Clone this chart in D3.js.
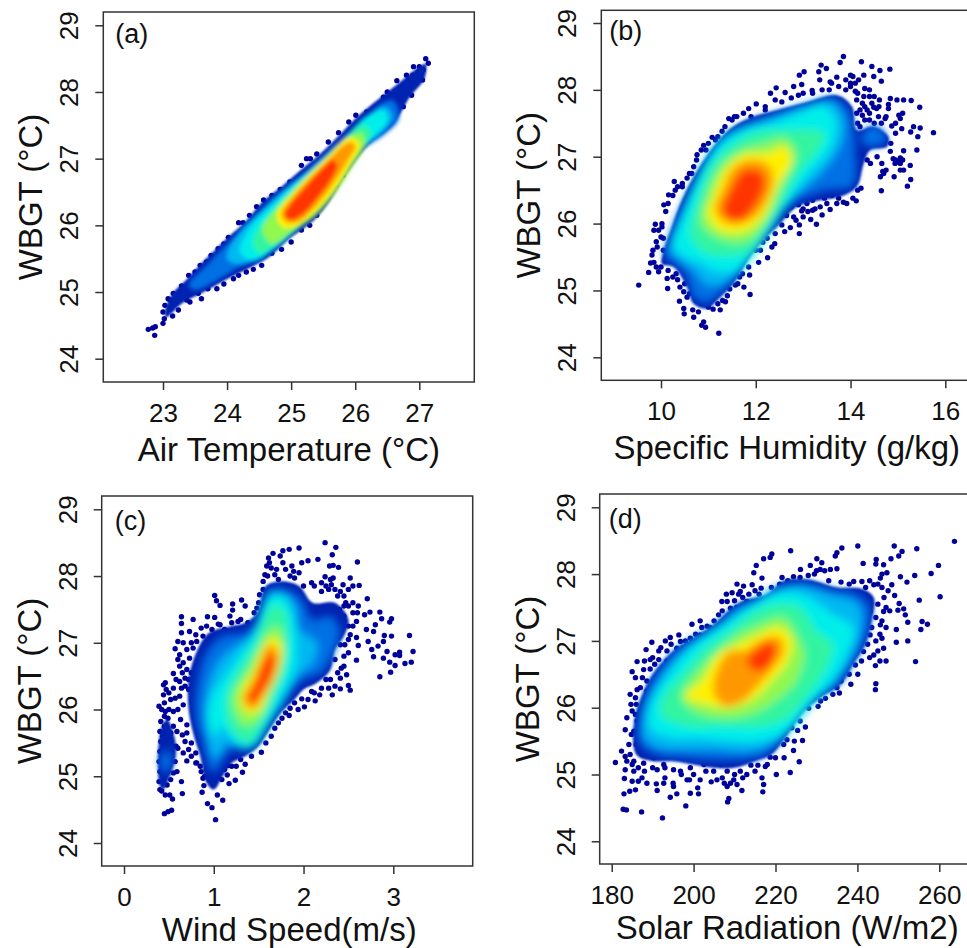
<!DOCTYPE html>
<html><head><meta charset="utf-8">
<script src="https://cdn.jsdelivr.net/npm/d3@7"></script>
<style>html,body{margin:0;padding:0;background:#fff;overflow:hidden}svg{display:block}
text{font-family:"Liberation Sans",Arial,sans-serif;fill:#111}</style></head><body>
<script>
const bandColors=["#0022b0","#0070e4","#00b8f2","#00eeea","#30f4a0","#90f850","#fff000","#ff9800","#ff3400"];
const dotColor="#00009a";
const yTicks=[24,25,26,27,28,29];
const yLabel="WBGT (°C)";

const dotsA=[[22.77,24.44],[22.84,24.46],[22.88,24.48],[22.87,24.35],[23.0,24.53],[23.02,24.6],[23.0,24.7],[23.03,24.8],[23.11,24.88],[23.16,24.98],[23.15,24.64],[23.24,24.73],[23.11,24.75],[23.29,25.09],[23.42,24.85],[23.6,24.9],[23.37,24.88],[23.84,25.05],[24.18,25.25],[24.41,25.34],[24.54,25.4],[24.85,25.64],[24.7,25.58],[25.29,26.0],[25.16,25.93],[25.58,26.43],[25.81,26.75],[24.18,26.04],[24.25,26.04],[24.02,25.82],[23.86,25.65],[23.68,25.45],[23.58,25.4],[24.46,26.28],[24.57,26.38],[24.83,26.54],[24.98,26.65],[25.16,26.9],[25.24,27.0],[25.4,27.07],[25.58,27.25],[25.74,27.39],[26.01,27.65],[26.18,27.7],[26.44,27.92],[26.65,28.17],[26.8,28.25],[26.91,28.38],[27.1,28.5],[27.14,28.43],[27.06,28.33],[27.05,28.18],[26.93,28.15],[26.88,27.95],[26.83,28.18],[26.75,27.78],[26.98,28.3],[23.08,24.9],[23.2,24.85],[23.3,24.95],[23.45,25.15],[23.55,24.98],[23.7,25.05],[23.95,25.12],[24.1,25.2],[24.3,25.3],[25.0,25.75],[25.4,26.15],[25.7,26.6],[25.95,27.0],[26.2,27.28],[26.45,27.5],[26.7,27.85],[26.8,28.0],[26.9,28.25],[27.0,28.38],[26.72,28.05],[26.5,28.0],[25.9,27.55],[25.3,27.0],[24.7,26.45],[24.35,26.15],[23.95,25.72],[23.75,25.55],[23.5,25.3],[23.4,25.25]];
const bandsA=[
[[23.03,24.7],[23.15,24.98],[23.35,25.17],[23.55,25.38],[23.8,25.62],[24.05,25.85],[24.3,26.07],[24.55,26.35],[24.85,26.58],[25.15,26.83],[25.45,27.07],[25.75,27.35],[26.0,27.6],[26.4,27.92],[26.7,28.15],[27.0,28.38],[27.1,28.42],[27.08,28.2],[26.85,27.92],[26.6,27.52],[26.2,27.2],[25.85,26.75],[25.6,26.36],[25.35,26.07],[25.0,25.82],[24.65,25.52],[24.35,25.36],[23.95,25.17],[23.6,24.98],[23.3,24.83],[23.05,24.62]],
[[23.4,25.1],[23.7,25.42],[24.0,25.72],[24.35,26.04],[24.65,26.32],[25.0,26.6],[25.4,26.95],[25.8,27.3],[26.1,27.55],[26.4,27.82],[26.6,27.87],[26.68,27.6],[26.45,27.36],[26.15,27.16],[25.85,26.8],[25.55,26.42],[25.25,26.06],[24.9,25.82],[24.55,25.5],[24.2,25.38],[23.85,25.18],[23.5,25.03]],
[[24.0,25.5],[24.15,25.85],[24.5,26.2],[24.9,26.55],[25.4,26.92],[25.8,27.28],[26.15,27.58],[26.45,27.78],[26.58,27.65],[26.4,27.4],[26.1,27.16],[25.8,26.78],[25.5,26.38],[25.2,26.06],[24.85,25.82],[24.5,25.52],[24.2,25.42]],
[[24.2,25.6],[24.35,25.95],[24.7,26.3],[25.1,26.65],[25.5,27.0],[25.85,27.33],[26.2,27.65],[26.45,27.72],[26.5,27.55],[26.2,27.25],[25.95,26.95],[25.7,26.55],[25.4,26.2],[25.05,25.9],[24.7,25.62],[24.4,25.48]],
[[24.4,25.75],[24.65,26.15],[25.0,26.5],[25.4,26.88],[25.8,27.25],[26.1,27.5],[26.25,27.4],[26.1,27.1],[25.85,26.75],[25.5,26.3],[25.1,25.95],[24.75,25.7],[24.5,25.58]],
[[24.55,25.95],[24.8,26.28],[25.15,26.65],[25.5,26.98],[25.85,27.3],[26.1,27.38],[26.15,27.2],[25.95,26.88],[25.7,26.5],[25.35,26.12],[25.0,25.9],[24.7,25.72]],
[[24.78,26.18],[25.0,26.45],[25.3,26.77],[25.6,27.05],[25.9,27.32],[26.07,27.22],[25.92,26.92],[25.65,26.5],[25.35,26.18],[25.05,25.98],[24.85,25.98]],
[[24.85,26.18],[25.0,26.4],[25.3,26.72],[25.6,27.0],[25.9,27.25],[26.0,27.2],[25.85,26.92],[25.6,26.55],[25.35,26.25],[25.1,26.05],[24.92,26.05]],
[[24.9,26.15],[25.0,26.33],[25.2,26.55],[25.45,26.82],[25.65,26.98],[25.72,26.9],[25.6,26.65],[25.4,26.4],[25.2,26.18],[25.0,26.08]]
];
const extrasA=[];

const dotsB=[[9.53,25.08],[9.74,25.27],[9.78,25.41],[9.81,25.53],[9.83,25.6],[9.9,25.73],[9.88,25.99],[9.85,25.9],[10.02,25.95],[9.95,25.28],[10.13,25.18],[10.14,25.03],[10.35,25.16],[10.48,24.98],[10.39,24.84],[10.48,24.73],[10.49,24.65],[10.69,24.6],[10.67,24.71],[10.79,24.68],[10.9,24.53],[10.94,24.45],[10.86,24.48],[11.22,24.36],[11.25,24.71],[11.36,24.83],[11.18,24.96],[11.57,25.08],[11.66,25.2],[11.87,25.23],[11.88,24.94],[12.06,25.42],[12.25,25.49],[12.34,25.65],[12.24,25.78],[12.41,25.85],[12.61,25.88],[12.73,25.94],[12.92,25.85],[12.92,25.98],[13.28,25.99],[13.16,26.06],[13.4,26.13],[12.97,26.19],[13.57,26.21],[13.92,26.3],[14.12,26.34],[14.22,26.53],[14.65,26.49],[14.63,26.7],[14.92,26.7],[15.2,26.56],[15.27,26.66],[15.26,26.87],[15.12,26.8],[15.05,26.98],[15.12,27.09],[15.4,27.1],[14.84,27.08],[14.66,26.9],[14.56,27.0],[15.75,27.36],[15.47,27.43],[15.33,27.45],[15.42,27.3],[15.27,27.37],[15.08,27.42],[15.1,27.65],[15.46,27.74],[15.28,27.84],[15.12,27.85],[14.98,27.85],[14.84,27.87],[14.8,27.72],[14.61,27.85],[14.49,27.74],[14.83,28.31],[14.62,28.29],[14.45,28.35],[14.65,28.13],[14.49,28.2],[14.23,28.42],[14.28,28.22],[13.85,28.5],[13.78,28.41],[14.0,28.22],[14.17,28.15],[13.71,28.19],[13.57,28.12],[13.38,28.37],[13.49,28.32],[13.33,28.27],[13.35,28.15],[13.02,28.27],[12.92,28.22],[12.97,28.08],[12.8,28.05],[12.43,28.03],[12.31,27.95],[12.62,27.96],[12.41,27.85],[12.9,27.92],[13.19,27.99],[13.4,28.0],[12.01,27.79],[11.74,27.65],[11.43,27.57],[11.29,27.38],[11.08,27.29],[10.9,27.17],[10.76,27.03],[10.69,26.85],[10.28,26.63],[10.55,26.68],[10.16,26.43],[10.06,26.28],[14.28,27.9],[14.35,27.7],[14.59,27.6],[14.73,27.57],[15.05,27.57],[14.87,27.46],[14.13,27.85],[14.13,27.65],[14.2,27.45],[14.94,26.9],[15.05,26.8],[14.7,26.75],[14.42,26.9],[13.08,26.3],[12.8,26.1],[12.55,25.98],[13.36,26.25],[13.71,26.3],[14.35,26.95],[14.0,28.05],[14.1,27.98],[13.9,28.0],[14.4,28.0],[14.25,27.8],[14.5,27.9],[14.4,27.55],[10.3,26.5],[10.45,26.55],[10.0,25.8],[10.05,25.6],[10.6,26.75],[10.95,27.1],[11.2,27.3],[11.55,27.6],[11.9,27.6],[12.2,27.7],[13.0,26.1],[13.2,26.2],[13.5,26.3],[12.4,25.7],[12.1,25.6],[11.75,25.05],[10.25,25.2],[10.6,24.95],[11.1,24.72],[11.3,24.85],[12.9,26.28],[12.75,26.25],[13.0,26.4],[13.2,26.35],[13.3,26.45],[13.45,26.38],[13.6,26.42],[13.75,26.38],[13.85,26.32],[14.05,26.38],[14.15,26.5],[12.65,26.12],[12.5,26.1],[12.3,25.95],[12.15,25.72],[12.0,25.6],[12.25,25.9],[13.25,26.22],[13.1,26.18],[12.85,26.05],[13.0,26.22],[14.0,28.1],[14.1,28.1],[14.15,27.95],[14.2,27.7],[14.25,27.62],[14.3,27.75],[14.45,27.8],[14.4,27.65],[14.5,27.5],[14.6,27.75],[14.3,27.55],[14.15,27.5],[14.05,28.2],[13.9,28.15],[13.6,28.1],[13.75,28.05],[13.55,28.0],[13.2,27.95],[13.0,27.95],[12.75,27.88],[12.55,27.82],[12.2,27.75],[11.85,27.72],[11.6,27.6],[11.5,27.55],[11.35,27.45],[11.15,27.25],[11.0,27.2],[10.85,27.1],[10.75,26.95],[10.65,26.75],[10.45,26.6],[10.35,26.55],[10.25,26.42],[10.15,26.3],[10.1,26.18],[10.02,26.0],[9.95,25.9],[10.05,25.78],[9.92,25.65],[9.85,25.42],[9.9,25.35],[10.0,25.35],[10.15,25.3],[10.32,25.25],[10.4,25.05],[10.5,25.1],[10.55,24.9],[10.75,24.85],[11.0,24.75],[11.2,24.8],[11.4,24.92],[11.45,25.02],[11.62,25.1],[11.72,25.25],[11.85,25.35],[15.0,26.92],[14.95,26.95],[15.05,26.9],[15.1,26.95],[14.9,26.97],[14.85,27.2],[14.75,26.8],[14.68,26.78],[14.95,27.35],[14.95,27.5],[15.02,27.62],[14.8,27.78],[14.75,27.6],[14.65,27.5],[14.55,27.72],[14.4,27.9],[14.3,28.02]];
const bandsB=[
[[10.02,25.4],[10.06,25.6],[10.23,25.95],[10.41,26.3],[10.69,26.7],[11.11,27.15],[11.46,27.42],[11.95,27.6],[12.45,27.7],[13.08,27.82],[13.71,27.92],[14.03,27.75],[14.13,27.4],[14.49,27.45],[14.8,27.3],[14.77,27.15],[14.42,27.1],[14.28,26.9],[14.13,26.55],[13.78,26.4],[13.36,26.35],[12.87,26.25],[12.52,26.0],[12.17,25.75],[11.88,25.5],[11.53,25.1],[11.25,24.9],[10.97,24.73],[10.69,24.8],[10.55,25.05],[10.27,25.35]],
[[10.08,25.5],[10.25,25.95],[10.52,26.38],[10.87,26.88],[11.22,27.25],[11.72,27.48],[12.3,27.62],[13.0,27.78],[13.66,27.88],[13.98,27.68],[14.08,27.35],[14.1,27.0],[14.12,26.75],[14.02,26.55],[13.5,26.5],[13.08,26.4],[12.66,26.25],[12.38,25.95],[12.03,25.65],[11.74,25.35],[11.39,25.05],[10.97,24.82],[10.69,24.9],[10.55,25.2],[10.3,25.4]],
[[10.2,25.6],[10.45,26.1],[10.7,26.55],[11.0,27.0],[11.4,27.35],[11.9,27.48],[12.4,27.6],[13.0,27.75],[13.6,27.82],[13.85,27.55],[13.8,27.2],[13.5,26.85],[13.05,26.55],[12.65,26.35],[12.35,26.0],[12.0,25.65],[11.7,25.3],[11.3,25.1],[10.95,25.1],[10.7,25.3],[10.4,25.45]],
[[10.27,25.65],[10.5,26.2],[10.8,26.7],[11.2,27.15],[11.75,27.4],[12.35,27.5],[12.9,27.65],[13.4,27.76],[13.68,27.55],[13.6,27.15],[13.1,26.72],[12.8,26.42],[12.4,26.0],[12.05,25.62],[11.65,25.32],[11.2,25.28],[10.8,25.42],[10.5,25.5]],
[[10.62,25.82],[10.78,26.35],[11.08,26.87],[11.6,27.22],[12.1,27.38],[12.6,27.4],[13.1,27.4],[13.45,27.35],[13.3,27.08],[12.95,26.8],[12.6,26.38],[12.2,25.92],[11.85,25.58],[11.35,25.52],[10.9,25.58]],
[[10.85,26.0],[10.95,26.4],[11.25,26.85],[11.7,27.1],[12.2,27.2],[12.6,27.28],[12.85,27.05],[12.55,26.55],[12.25,26.05],[11.85,25.75],[11.3,25.75]],
[[10.98,26.15],[11.1,26.4],[11.35,26.8],[11.75,27.03],[12.25,27.05],[12.6,27.15],[12.75,26.95],[12.45,26.55],[12.15,26.1],[11.75,25.88],[11.25,25.9]],
[[11.15,26.2],[11.3,26.5],[11.55,26.85],[11.95,26.95],[12.3,26.85],[12.35,26.55],[12.05,26.15],[11.7,26.0],[11.35,26.02]],
[[11.3,26.2],[11.5,26.55],[11.75,26.8],[12.1,26.78],[12.2,26.6],[11.98,26.25],[11.7,26.05],[11.4,26.08]]
];
const extrasB=[[1,[[14.3,27.4],[14.6,27.45],[14.75,27.25],[14.5,27.15],[14.25,27.2]]]];

const dotsC=[[0.4,24.8],[0.39,24.92],[0.4,25.07],[0.39,25.22],[0.4,25.37],[0.41,25.52],[0.4,25.67],[0.41,25.82],[0.39,26.05],[0.44,26.22],[0.44,26.37],[0.46,26.4],[0.46,25.97],[0.49,25.87],[0.48,25.57],[0.49,25.07],[0.48,24.87],[0.51,24.72],[0.54,24.66],[0.45,24.44],[0.49,24.47],[0.53,24.49],[0.65,24.74],[0.64,24.92],[0.59,25.07],[0.57,25.22],[0.6,25.42],[0.59,25.67],[0.55,25.97],[0.57,26.17],[0.55,26.32],[0.55,26.54],[0.64,26.32],[0.66,26.07],[0.7,25.77],[0.68,25.52],[0.7,25.23],[0.81,25.2],[0.86,25.07],[0.87,24.76],[0.89,24.86],[0.93,24.59],[0.98,24.53],[1.02,24.35],[1.04,24.72],[1.1,24.64],[1.09,24.95],[1.17,24.89],[1.24,24.94],[1.16,25.16],[1.32,25.06],[1.35,25.18],[1.53,25.36],[1.64,25.6],[1.76,25.87],[1.84,25.91],[1.94,26.0],[2.01,26.04],[2.13,26.13],[1.98,26.16],[2.09,26.27],[2.18,26.22],[2.32,26.22],[2.41,26.31],[2.52,26.29],[2.5,26.36],[2.48,26.52],[2.41,26.47],[2.28,26.32],[2.59,26.74],[2.42,26.62],[2.5,26.85],[2.61,26.96],[2.59,27.08],[2.46,26.97],[2.52,27.12],[2.7,27.2],[2.78,27.17],[2.72,27.02],[2.76,26.9],[2.83,26.95],[2.78,26.79],[2.85,26.49],[2.89,26.77],[2.97,26.56],[2.96,26.71],[3.02,26.66],[3.02,26.82],[3.07,26.86],[2.93,26.87],[2.89,27.02],[2.98,27.1],[2.9,27.11],[3.18,27.11],[3.22,26.87],[3.2,26.71],[3.13,26.69],[3.07,26.81],[2.98,27.36],[2.96,27.31],[2.85,27.46],[2.87,27.36],[2.74,27.46],[2.68,27.42],[2.8,27.27],[2.71,27.66],[2.62,27.86],[2.52,27.97],[2.5,27.8],[2.6,28.21],[2.39,28.13],[2.33,28.16],[2.29,28.15],[2.32,28.32],[2.36,28.43],[2.24,28.5],[2.16,28.25],[2.05,28.23],[1.95,28.42],[1.98,28.2],[1.84,28.4],[1.77,28.38],[1.66,28.34],[1.74,28.3],[1.61,28.27],[1.59,28.15],[1.57,28.02],[1.55,27.92],[1.87,28.15],[1.9,27.97],[2.24,27.99],[2.09,27.9],[2.31,27.87],[2.2,27.77],[2.41,27.77],[2.55,27.6],[1.51,27.72],[1.48,27.52],[1.31,27.64],[1.35,27.55],[1.21,27.58],[1.21,27.49],[1.01,27.71],[1.03,27.63],[1.07,27.56],[1.18,27.4],[1.01,27.38],[0.93,27.39],[0.64,27.39],[0.64,27.29],[0.77,27.35],[0.86,27.22],[0.73,27.17],[0.64,27.15],[0.6,27.02],[0.66,27.0],[0.57,26.91],[0.77,26.92],[0.62,26.82],[0.73,26.77],[0.62,26.65],[0.68,26.47],[1.27,27.32],[1.07,27.27],[0.81,27.02],[2.33,27.97],[2.44,27.87],[2.55,27.85],[2.61,27.55],[2.59,27.32],[2.41,26.97],[1.64,28.12],[1.77,28.2],[1.89,28.07],[1.68,28.02],[2.28,27.8],[2.45,27.55],[2.6,27.45],[2.5,27.25],[2.45,27.4],[2.35,26.75],[2.25,26.45],[0.5,25.3],[0.45,25.75],[0.52,25.65],[0.45,26.1],[0.5,26.25],[0.62,26.2],[0.72,26.3],[0.75,25.5],[0.8,25.35],[0.9,25.0],[1.12,25.1],[1.2,25.15],[0.82,26.7],[0.75,26.55],[0.43,25.6],[0.45,25.9],[0.5,26.0],[0.42,26.0],[0.47,26.3],[0.52,26.15],[0.6,26.0],[0.63,25.85],[0.55,25.75],[0.65,25.62],[0.7,25.65],[0.58,25.45],[0.72,25.4],[0.66,25.35],[0.75,25.3],[0.8,25.2],[0.85,25.15],[0.92,25.1],[0.95,24.95],[0.88,24.97],[0.55,25.05],[0.52,24.95],[0.46,24.72],[0.42,24.78],[0.58,26.45],[0.62,26.42],[0.68,26.35],[0.7,26.6],[0.65,26.55],[0.72,26.45],[0.78,26.4],[0.6,26.75],[0.66,26.7],[0.7,26.9],[0.75,27.0],[0.8,27.12],[0.88,27.1],[0.92,27.25],[0.98,27.2],[1.05,27.28],[1.12,27.2],[1.2,27.3],[1.3,27.35],[1.38,27.3],[1.45,27.45],[1.5,27.6],[1.55,27.8],[1.6,28.0],[1.62,28.2],[1.7,28.1],[1.72,27.95],[1.8,28.1],[1.85,28.0],[1.95,28.05],[2.0,27.85],[2.12,27.85],[2.2,27.9],[2.25,27.85],[2.3,27.95],[2.35,27.8],[2.38,27.7],[2.45,27.7],[2.47,27.6],[2.5,27.55],[2.4,27.5],[2.55,27.45],[2.55,27.25],[2.5,27.05],[2.45,26.8],[2.45,26.65],[2.38,26.55],[2.3,26.45],[2.35,26.35],[2.2,26.32],[2.12,26.25],[2.05,26.15],[1.9,26.1],[1.85,26.02],[1.8,25.95],[1.72,25.8],[1.68,25.72],[1.58,25.5],[1.42,25.3],[1.3,25.25],[1.25,25.15],[1.15,25.02],[1.05,25.0]];
const bandsC=[
[[0.85,25.3],[0.78,25.6],[0.72,26.0],[0.72,26.45],[0.82,26.9],[0.95,27.15],[1.2,27.25],[1.35,27.3],[1.48,27.45],[1.58,27.85],[1.75,27.92],[1.95,27.85],[2.1,27.6],[2.35,27.6],[2.5,27.35],[2.45,27.1],[2.35,26.9],[2.3,26.6],[2.15,26.4],[2.0,26.3],[1.9,26.15],[1.75,25.95],[1.6,25.65],[1.5,25.45],[1.35,25.3],[1.2,25.2],[1.1,25.0],[1.0,24.8],[0.92,24.9]],
[[0.88,25.5],[0.8,25.9],[0.82,26.4],[0.92,26.85],[1.1,27.1],[1.35,27.15],[1.5,27.35],[1.6,27.78],[1.8,27.8],[1.98,27.65],[2.1,27.35],[2.3,27.4],[2.4,27.2],[2.35,26.9],[2.2,26.55],[2.0,26.45],[1.85,26.25],[1.72,26.0],[1.55,25.7],[1.4,25.4],[1.2,25.4],[1.08,25.2],[1.0,25.05],[0.93,25.2]],
[[1.0,25.3],[0.92,25.7],[0.92,26.2],[1.05,26.7],[1.25,26.95],[1.42,27.1],[1.55,27.55],[1.65,27.75],[1.82,27.72],[1.92,27.5],[1.95,27.2],[2.15,27.0],[2.1,26.7],[1.93,26.5],[1.8,26.15],[1.65,25.85],[1.5,25.55],[1.35,25.42],[1.15,25.5],[1.05,25.3]],
[[1.0,25.6],[0.93,25.9],[0.98,26.2],[1.15,26.55],[1.3,26.85],[1.45,27.15],[1.55,27.55],[1.68,27.72],[1.8,27.65],[1.88,27.4],[1.92,27.0],[1.9,26.6],[1.75,26.15],[1.6,25.75],[1.45,25.45],[1.3,25.45],[1.15,25.65],[1.08,25.75]],
[[1.14,25.9],[1.15,26.25],[1.3,26.65],[1.45,26.95],[1.55,27.3],[1.65,27.55],[1.78,27.5],[1.82,27.1],[1.8,26.65],[1.65,26.15],[1.52,25.75],[1.38,25.5],[1.22,25.65]],
[[1.22,26.0],[1.22,26.25],[1.38,26.6],[1.5,26.9],[1.6,27.15],[1.7,27.25],[1.78,27.05],[1.76,26.65],[1.62,26.2],[1.5,25.85],[1.35,25.75]],
[[1.3,26.1],[1.32,26.3],[1.45,26.6],[1.53,26.88],[1.65,27.08],[1.75,26.95],[1.72,26.6],[1.6,26.25],[1.5,25.98],[1.38,25.95]],
[[1.33,26.18],[1.42,26.4],[1.53,26.75],[1.62,26.98],[1.72,26.85],[1.68,26.5],[1.55,26.2],[1.45,26.02],[1.36,26.05]],
[[1.38,26.18],[1.47,26.4],[1.55,26.7],[1.63,26.85],[1.68,26.7],[1.62,26.45],[1.52,26.2],[1.44,26.08]]
];
const extrasC=[[0,[[0.4,24.85],[0.41,25.7],[0.48,25.85],[0.56,25.6],[0.58,25.35],[0.54,25.1],[0.48,24.9],[0.44,24.8]]],[1,[[0.42,25.1],[0.42,25.35],[0.5,25.38],[0.53,25.2],[0.48,25.05]]]];

const dotsD=[[180.9,25.18],[182.4,25.35],[183.3,25.27],[183.1,24.94],[183.0,24.71],[182.8,24.48],[183.6,24.47],[187.3,24.44],[192.4,24.35],[184.4,24.75],[185.8,24.77],[187.4,24.95],[188.6,24.87],[190.9,24.86],[191.1,24.76],[192.7,24.87],[194.3,24.66],[195.9,24.71],[195.1,24.82],[198.1,24.53],[199.2,24.72],[201.2,24.71],[201,24.8],[198.4,24.92],[201.6,24.92],[204.3,24.89],[205.7,24.92],[208.6,24.64],[208.3,24.59],[208.2,24.82],[209.8,24.92],[211.8,24.76],[210.6,24.85],[213,25.0],[216.7,24.95],[217.1,24.85],[216.9,24.74],[220.2,25.0],[223.6,25.03],[225.8,25.19],[222.1,25.25],[224.4,25.36],[226.6,25.51],[227.3,25.71],[224.6,25.5],[222.8,25.52],[225.4,25.66],[222,25.67],[218.7,25.26],[217.5,25.12],[215.7,25.14],[214,25.14],[204.9,25.05],[196.8,25.05],[191.1,25.07],[185.4,25.05],[183.3,25.07],[183.7,25.2],[187.8,25.17],[184.2,25.45],[183.3,25.67],[183.7,25.85],[184.7,26.05],[185.8,26.15],[186.2,26.27],[187,25.95],[185,26.54],[186.2,26.69],[187.8,26.57],[189.4,26.58],[189.4,26.72],[188.4,26.87],[189.8,26.98],[191.5,26.85],[193.1,27.0],[194.3,27.05],[196.4,27.09],[195.1,26.74],[191.5,26.72],[188.6,26.4],[199.6,27.25],[201.6,27.3],[199.2,27.04],[203.3,27.22],[206.1,27.39],[206.9,27.59],[210.6,27.85],[209.4,27.72],[212.2,27.82],[214.3,27.84],[214.7,28.02],[215.3,28.13],[216.7,27.94],[216.5,27.79],[217.1,28.23],[218.7,28.25],[219.1,28.3],[223.7,28.35],[221.6,27.95],[224.4,27.96],[226.1,28.07],[228.5,28.13],[230.1,28.23],[231.3,28.17],[233.4,28.07],[235,28.08],[234.6,28.27],[235,28.32],[236.2,28.39],[240.1,28.42],[241.4,28.16],[244.6,28.22],[246.4,28.14],[248.2,28.23],[249,28.42],[250.9,28.34],[250.1,28.27],[254.5,28.38],[263.7,28.49],[259.8,28.13],[258,28.01],[254,27.98],[260.2,27.66],[255.1,27.61],[252.1,27.88],[250.5,27.96],[248.4,27.84],[249.1,27.68],[250.2,27.56],[251.3,27.48],[249.9,27.46],[247.9,27.45],[251.7,27.39],[252.3,27.28],[255.8,27.29],[257.1,27.25],[255.5,27.17],[249.5,27.17],[249.5,26.98],[252.3,27.0],[254.2,26.69],[247,26.7],[246.4,26.89],[244.4,26.63],[244.5,26.36],[244.4,26.27],[240.1,26.5],[238.4,26.35],[235.6,26.22],[235,26.3],[232.2,26.14],[230.4,26.02],[228.1,25.99],[246.4,27.44],[245.6,27.94],[247.2,28.02],[244,27.84],[243.1,27.44],[245.6,27.24],[243.1,27.09],[246,27.04],[244,26.79],[241.5,26.84],[239.5,26.64],[241.1,27.89],[239.1,27.89],[185.4,25.2],[190.3,25.25],[192.7,25.15],[195.1,25.07],[199.2,25.1],[202.5,25.15],[206.5,25.15],[208.2,25.05],[211.4,25.05],[185.4,25.65],[186.2,25.8],[211.4,27.74],[213,27.59],[209,27.49],[208.2,27.59],[188.6,26.25],[193.5,26.7],[191.9,26.5],[195.9,26.89],[196.8,26.99],[201.6,27.09],[230.9,28.07],[184.5,25.3],[185,25.15],[186.5,25.1],[187.5,25.3],[186,25.45],[184.8,25.6],[186.2,25.6],[185,25.95],[185.8,25.9],[184.5,26.2],[186,26.05],[187,26.3],[185.8,26.45],[187.5,26.45],[188,26.7],[190,26.75],[190.5,26.65],[192,26.9],[193.5,26.85],[194.5,26.95],[197.5,26.9],[198,27.0],[200.5,27.1],[202,27.2],[204,27.2],[205,27.3],[207,27.45],[208,27.7],[210,27.6],[210.5,27.5],[211,27.7],[212,27.65],[213.5,27.7],[215,27.75],[216,27.7],[219,27.8],[221,27.85],[223,27.9],[226,27.95],[228,27.98],[230,28.05],[232,28.05],[229.5,28.0],[233,27.9],[236,27.88],[238,27.85],[242,27.8],[243,27.9],[245,27.85],[246,27.8],[247.5,27.75],[246,28.0],[244.5,28.15],[246.5,27.65],[245,27.55],[247,27.5],[244.5,27.35],[246,27.3],[243.5,27.2],[247,27.2],[244.5,27.0],[245.5,27.1],[242.5,26.95],[245,26.85],[243,26.75],[241,26.7],[245.5,26.7],[238,26.5],[236,26.4],[234,26.2],[231,26.1],[193,25.1],[197,25.0],[200,25.0],[203,25.05],[207,24.95],[210,25.0],[212,24.95],[215,25.05],[218,25.15],[220,25.25],[222,25.45],[224,25.7],[226,25.8],[190,25.1],[188,25.05],[186.5,24.9],[185,24.9],[199,24.92],[195,24.87],[193,24.95],[209,24.87],[207.5,24.87]];
const bandsD=[
[[186,25.3],[185.5,25.8],[187.5,26.2],[190,26.5],[195,26.85],[200,27.05],[205,27.25],[208.5,27.45],[212,27.6],[218,27.7],[222,27.9],[228,27.92],[235,27.8],[241,27.78],[244,27.65],[243.5,27.3],[242,26.95],[239,26.65],[236,26.35],[231,26.15],[227,25.95],[223,25.6],[219,25.3],[215,25.2],[210,25.1],[205,25.1],[200,25.15],[195,25.2],[190,25.2]],
[[187,25.45],[186.8,25.9],[189,26.3],[192,26.6],[196,26.88],[201,27.08],[206,27.28],[210,27.5],[215,27.62],[220,27.8],[227,27.87],[234,27.77],[240,27.7],[243,27.5],[242,27.05],[239,26.68],[235,26.33],[230,26.13],[226,25.85],[222,25.55],[217,25.28],[210,25.22],[204,25.22],[198,25.25],[192,25.28]],
[[188,25.55],[188,25.95],[191,26.35],[196,26.75],[202,27.05],[207,27.25],[212,27.5],[218,27.7],[225,27.83],[233,27.7],[240,27.55],[241,27.2],[238.5,26.75],[234,26.35],[229,26.05],[225,25.75],[220,25.48],[213,25.35],[205,25.38],[197,25.38],[192,25.4]],
[[189.5,25.7],[190,26.1],[194,26.5],[199,26.88],[205,27.15],[210,27.35],[215,27.55],[221,27.72],[227,27.68],[234,27.4],[239,27.2],[237,26.75],[233,26.35],[228,26.02],[223,25.65],[216,25.5],[209,25.5],[201,25.55],[195,25.55]],
[[192,25.9],[193,26.2],[198,26.55],[203,26.9],[209,27.15],[214,27.4],[220,27.55],[226,27.5],[230,27.15],[234,26.95],[232,26.55],[228,26.2],[223,25.85],[217,25.72],[208,25.72],[199,25.72]],
[[197,26.15],[201,26.55],[206,26.85],[211,27.1],[216,27.25],[222,27.35],[225.5,27.05],[227,26.8],[225,26.4],[220,26.1],[214,25.9],[206,25.85],[200,25.95]],
[[198,26.18],[202,26.4],[206,26.8],[211,26.95],[216,27.1],[221,27.2],[224,27.0],[222.5,26.65],[219,26.4],[215,26.15],[209,26.0],[203,26.05]],
[[205,26.2],[206,26.6],[209,26.85],[212.5,26.85],[216,27.0],[221,27.05],[222,26.85],[219.5,26.6],[216,26.35],[212,26.1],[208,26.02]],
[[213,26.72],[216,26.9],[219,27.0],[220,26.85],[218,26.6],[215,26.55]]
];
const extrasD=[];

const panelA={tag:"(a)",xLabel:"Air Temperature (°C)",xTicks:[23,24,25,26,27],dots:dotsA,bands:bandsA,extras:extrasA};
const panelB={tag:"(b)",xLabel:"Specific Humidity (g/kg)",xTicks:[10,12,14,16],dots:dotsB,bands:bandsB,extras:extrasB};
const panelC={tag:"(c)",xLabel:"Wind Speed(m/s)",xTicks:[0,1,2,3],dots:dotsC,bands:bandsC,extras:extrasC};
const panelD={tag:"(d)",xLabel:"Solar Radiation (W/m2)",xTicks:[180,200,220,240,260],dots:dotsD,bands:bandsD,extras:extrasD};

const frames=[
 {p:panelA,l:103.3,t:12,  w:371,h:370,xd:[23,27],  xr:[163,419.3],  yr:[358.7,25.3], rim:0.8,blur:2,  tx:12,ty:31,cx:0,ly:79},
 {p:panelB,l:601.3,t:10.3,w:371,h:370,xd:[10,16],  xr:[661,945.3],  yr:[357.3,23],   rim:1.3,blur:4.5,tx:8, ty:30,cx:0,ly:79},
 {p:panelC,l:101.7,t:496, w:371,h:370,xd:[0,3],    xr:[124,393.3],  yr:[843,509.3],  rim:1.3,blur:4.5,tx:13,ty:34,cx:2,ly:75},
 {p:panelD,l:599.7,t:494, w:371,h:370,xd:[180,260],xr:[611.7,939.3],yr:[841.3,507.3],rim:1.3,blur:4.5,tx:9, ty:34,cx:2,ly:75}
];

const svg=d3.select("body").append("svg").attr("width",967).attr("height",948);
const defs=svg.append("defs");
const ink="#333";
frames.forEach((f,i)=>{
  const x=d3.scaleLinear().domain(f.xd).range(f.xr);
  const y=d3.scaleLinear().domain([24,29]).range(f.yr);
  [["r",f.rim],["b",f.blur]].forEach(([n,s])=>defs.append("filter").attr("id",n+i)
    .attr("x",f.l-20).attr("y",f.t-20).attr("width",f.w+40).attr("height",f.h+40)
    .attr("filterUnits","userSpaceOnUse").append("feGaussianBlur").attr("stdDeviation",s));
  const g=svg.append("g");
  g.append("g").selectAll("circle").data(f.p.dots).join("circle")
    .attr("cx",d=>x(d[0])).attr("cy",d=>y(d[1])).attr("r",2.7).attr("fill",dotColor);
  const line=d3.line().x(d=>x(d[0])).y(d=>y(d[1])).curve(d3.curveCatmullRomClosed.alpha(0.5));
  const rim=g.append("g").attr("filter",`url(#r${i})`);
  rim.append("path").attr("d",line(f.p.bands[0])).attr("fill",bandColors[0]);
  f.p.extras.filter(e=>e[0]===0).forEach(e=>rim.append("path").attr("d",line(e[1])).attr("fill",bandColors[0]));
  const field=g.append("g").attr("filter",`url(#b${i})`);
  f.p.bands.slice(1).forEach((b,k)=>field.append("path").attr("d",line(b)).attr("fill",bandColors[k+1]));
  f.p.extras.filter(e=>e[0]>0).forEach(e=>field.append("path").attr("d",line(e[1])).attr("fill",bandColors[e[0]]));
  g.append("rect").attr("x",f.l).attr("y",f.t).attr("width",f.w).attr("height",f.h)
    .attr("fill","none").attr("stroke",ink).attr("stroke-width",1.5);
  const ax=g.append("g").attr("transform",`translate(0,${f.t+f.h})`)
    .call(d3.axisBottom(x).tickValues(f.p.xTicks).tickSize(8).tickFormat(d3.format("d")));
  ax.select(".domain").remove();
  ax.selectAll("line").attr("stroke",ink).attr("stroke-width",1.5);
  ax.selectAll("text").attr("font-size",26).attr("font-family","Liberation Sans").attr("fill","#111").attr("y",40).attr("dy",0);
  const ay=g.append("g").attr("transform",`translate(${f.l},0)`)
    .call(d3.axisLeft(y).tickValues(yTicks).tickSize(8).tickFormat(d3.format("d")));
  ay.select(".domain").remove();
  ay.selectAll("line").attr("stroke",ink).attr("stroke-width",1.5);
  ay.selectAll("text").attr("font-size",26).attr("font-family","Liberation Sans").attr("fill","#111")
    .attr("text-anchor","middle").attr("dy",0).attr("x",0).attr("y",0)
    .attr("transform",`translate(-25,0) rotate(-90)`);
  g.append("text").attr("x",f.l+f.w/2+f.cx).attr("y",f.t+f.h+f.ly).attr("text-anchor","middle")
    .attr("font-size",33).text(f.p.xLabel);
  g.append("text").attr("transform",`translate(${f.l-61},${f.t+185}) rotate(-90)`).attr("text-anchor","middle")
    .attr("font-size",33).text(yLabel);
  g.append("text").attr("x",f.l+f.tx).attr("y",f.t+f.ty).attr("font-size",27).text(f.p.tag);
});
</script></body></html>
